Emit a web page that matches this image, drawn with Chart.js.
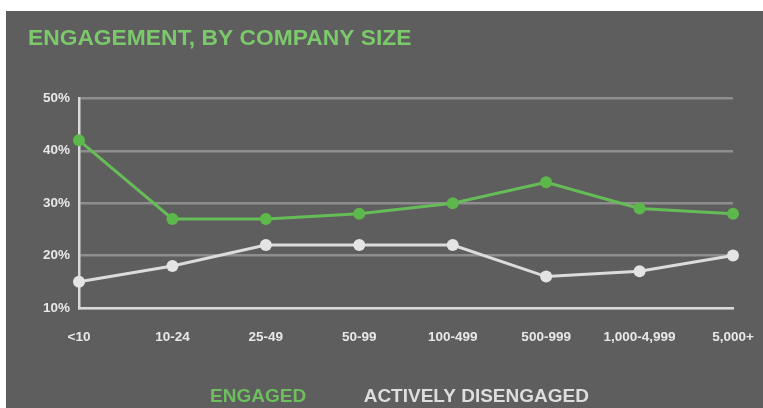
<!DOCTYPE html>
<html>
<head>
<meta charset="utf-8">
<script src="https://cdn.jsdelivr.net/npm/chart.js@4"></script>
<style>
  html, body { margin: 0; padding: 0; background: #ffffff; }
  #panel { position: absolute; left: 6px; top: 11px; width: 757px; height: 397px; background: #5e5e5e; }
  canvas { display: block; }
</style>
</head>
<body>
<div id="panel"><canvas id="chart" width="757" height="397"></canvas></div>
<script>
// Company size bands
const categories = ['<10', '10-24', '25-49', '50-99', '100-499', '500-999', '1,000-4,999', '5,000+'];
// Share of employees (%)
const engaged = [42, 27, 27, 28, 30, 34, 29, 28];
const activelyDisengaged = [15, 18, 22, 22, 22, 16, 17, 20];
// Y axis ticks
const yTicks = [10, 20, 30, 40, 50];

const GREEN = '#66bd57';
const WHITE = '#dcdcdc';
const TICK_FONT = { family: '"Liberation Sans", Arial, sans-serif', size: 13.5, weight: 'bold' };

new Chart(document.getElementById('chart'), {
  type: 'line',
  data: {
    labels: categories,
    datasets: [
      {
        label: 'ENGAGED',
        data: engaged,
        borderColor: GREEN,
        backgroundColor: GREEN,
        pointBackgroundColor: '#5cb84a',
        pointBorderWidth: 0,
        pointRadius: 6,
        borderWidth: 3,
        tension: 0
      },
      {
        label: 'ACTIVELY DISENGAGED',
        data: activelyDisengaged,
        borderColor: WHITE,
        backgroundColor: WHITE,
        pointBackgroundColor: '#e4e4e4',
        pointBorderWidth: 0,
        pointRadius: 6,
        borderWidth: 3,
        tension: 0
      }
    ]
  },
  options: {
    responsive: false,
    animation: false,
    layout: { padding: { left: 22, right: 30, top: 0, bottom: -8 } },
    plugins: {
      title: {
        display: true,
        text: 'ENGAGEMENT, BY COMPANY SIZE',
        align: 'start',
        color: '#7cc96c',
        font: { family: '"Liberation Sans", Arial, sans-serif', size: 22.8, weight: 'bold' },
        padding: { top: 14, bottom: 46 }
      },
      legend: {
        position: 'bottom',
        fullSize: true,
        labels: {
          // invisible spacer boxes keep the two labels apart
          boxWidth: 28.5,
          boxHeight: 0,
          padding: 19.5,
          font: { family: '"Liberation Sans", Arial, sans-serif', size: 19, weight: 'bold' },
          generateLabels: (chart) => chart.data.datasets.map((ds, i) => ({
            text: ds.label,
            fontColor: i === 0 ? '#6cbf5c' : '#dedede',
            fillStyle: 'rgba(0,0,0,0)',
            strokeStyle: 'rgba(0,0,0,0)',
            lineWidth: 0,
            hidden: false,
            datasetIndex: i
          }))
        }
      },
      tooltip: { enabled: false }
    },
    scales: {
      x: {
        offset: false,
        grid: { display: false },
        border: { display: true, color: '#dadada', width: 2.5 },
        afterFit: (scale) => { scale.height = 59.5; scale.paddingRight = 0; },
        ticks: {
          color: '#e8e8e8',
          padding: 13,
          maxRotation: 0,
          autoSkip: false,
          font: TICK_FONT
        }
      },
      y: {
        min: yTicks[0],
        max: yTicks[yTicks.length - 1],
        afterBuildTicks: (scale) => { scale.ticks = yTicks.map(v => ({ value: v })); },
        afterFit: (scale) => { scale.width = 51; },
        grid: { color: '#8e8e8e', lineWidth: 2.5, drawTicks: false },
        border: { display: true, color: '#dadada', width: 2.5 },
        ticks: {
          color: '#e8e8e8',
          padding: 9,
          callback: (v) => v + '%',
          font: TICK_FONT
        }
      }
    }
  }
});
</script>
</body>
</html>
